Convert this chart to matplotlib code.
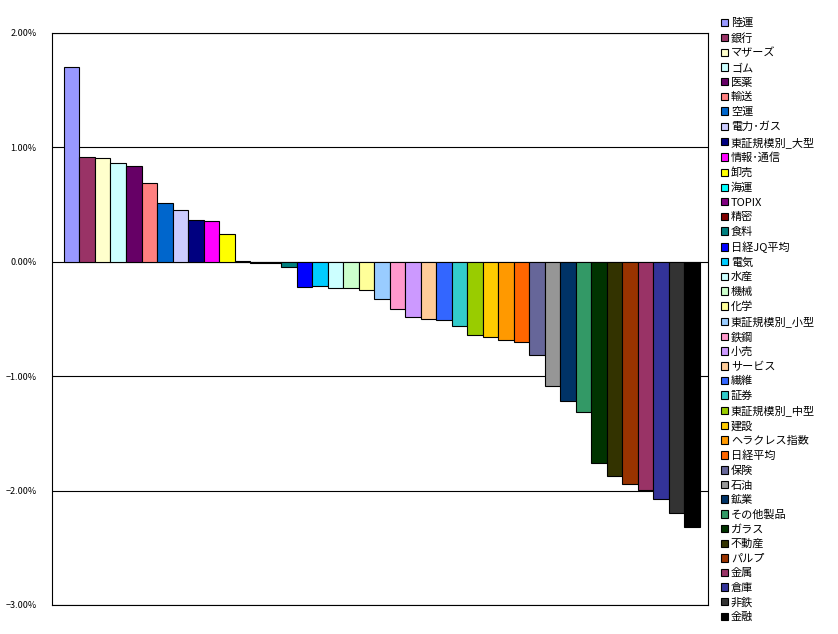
import numpy as np
import matplotlib.pyplot as plt
from matplotlib.ticker import FuncFormatter

plt.rcParams['font.family'] = ['Noto Sans CJK JP', 'DejaVu Sans']

sectors = ['陸運', '銀行', 'マザーズ', 'ゴム', '医薬', '輸送', '空運', '電力･ガス',
           '東証規模別_大型', '情報･通信', '卸売', '海運', 'TOPIX', '精密', '食料',
           '日経JQ平均', '電気', '水産', '機械', '化学', '東証規模別_小型', '鉄鋼',
           '小売', 'サービス', '繊維', '証券', '東証規模別_中型', '建設', 'ヘラクレス指数',
           '日経平均', '保険', '石油', '鉱業', 'その他製品', 'ガラス', '不動産', 'パルプ',
           '金属', '倉庫', '非鉄', '金融']

changes = [1.70, 0.92, 0.905, 0.86, 0.835, 0.69, 0.515, 0.45, 0.365, 0.355, 0.245,
           0.006, -0.008, -0.012, -0.045, -0.22, -0.215, -0.23, -0.23, -0.247, -0.326,
           -0.413, -0.483, -0.50, -0.51, -0.563, -0.644, -0.658, -0.68, -0.70, -0.816,
           -1.084, -1.218, -1.314, -1.76, -1.873, -1.943, -1.995, -2.074, -2.197, -2.314]

colors = ['#9999FF', '#993366', '#FFFFCC', '#CCFFFF', '#660066', '#FF8080', '#0066CC',
          '#CCCCFF', '#000080', '#FF00FF', '#FFFF00', '#00FFFF', '#800080', '#800000',
          '#008080', '#0000FF', '#00CCFF', '#CCFFFF', '#CCFFCC', '#FFFF99', '#99CCFF',
          '#FF99CC', '#CC99FF', '#FFCC99', '#3366FF', '#33CCCC', '#99CC00', '#FFCC00',
          '#FF9900', '#FF6600', '#666699', '#969696', '#003366', '#339966', '#003300',
          '#333300', '#993300', '#993366', '#333399', '#333333', '#000000']

fig = plt.figure(figsize=(8.38, 6.34), dpi=100)
ax = fig.add_axes([52 / 838, 29 / 634, 656 / 838, 572 / 634])

x = np.arange(len(sectors))
bars = []
for i in range(len(sectors)):
    b = ax.bar(x[i], changes[i], width=1.0, color=colors[i], edgecolor='black',
               linewidth=0.8, label=sectors[i], zorder=3)
    bars.append(b)

ax.set_xlim(-1.27, 41.02)
ax.set_ylim(-3, 2)
ax.set_yticks([2, 1, 0, -1, -2, -3])
ax.yaxis.set_major_formatter(FuncFormatter(lambda v, p: f'{v:.2f}%'.replace('-', '−')))
ax.tick_params(axis='y', length=0, pad=11, labelsize=6.5)
ax.set_xticks([])
ax.grid(axis='y', color='black', linewidth=0.8, zorder=0)
for s in ax.spines.values():
    s.set_linewidth(0.8)

leg = fig.legend(handles=[b[0] for b in bars], labels=sectors,
                 loc='upper left', bbox_to_anchor=(721 / 838, 1 - 18 / 634),
                 frameon=False, fontsize=8, handlelength=0.65, handleheight=0.65,
                 handletextpad=0.25, labelspacing=0.405, borderpad=0, borderaxespad=0)

fig.savefig('out.png', dpi=100)
